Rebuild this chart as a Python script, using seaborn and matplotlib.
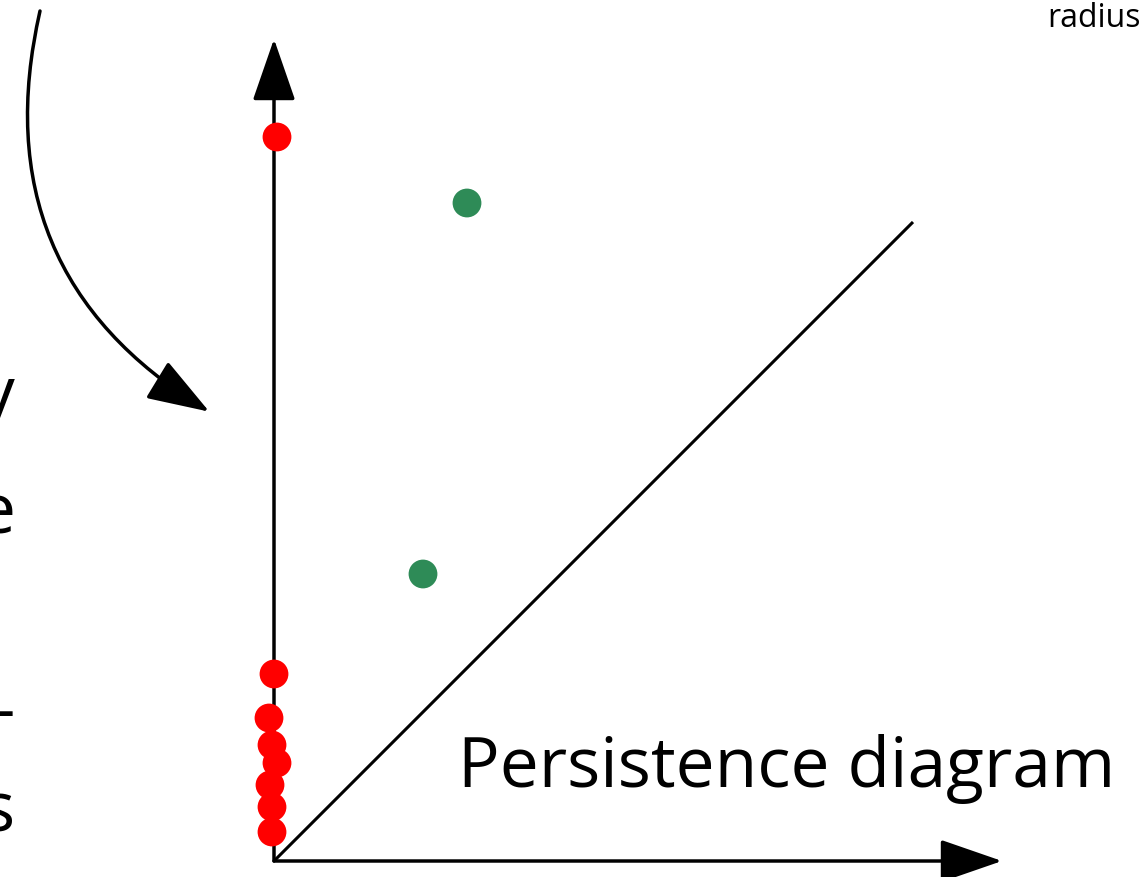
import numpy as np
import pandas as pd
import matplotlib
matplotlib.use("Agg")
import matplotlib.pyplot as plt
import seaborn as sns
from matplotlib.patches import FancyArrowPatch

# ---- data (birth, death) ----
h0_birth = [0.03, 0.00, -0.05, -0.02, 0.03, -0.04, -0.02, -0.02]
h0_death = [7.24, 1.87, 1.43, 1.16, 0.98, 0.76, 0.54, 0.29]
h1_birth = [1.93, 1.49]
h1_death = [6.58, 2.87]
diag_max = 6.39
x_axis_end = 7.28
y_axis_end = 8.22
title_text = "Persistence diagram"
corner_text = "radius"
edge_letters = ["y", "e", "-", "s"]
edge_letter_y = [4.45, 3.28, 1.29, 0.29]

df = pd.DataFrame({
    "birth": h0_birth + h1_birth,
    "death": h0_death + h1_death,
    "dim": ["H0"] * len(h0_birth) + ["H1"] * len(h1_birth),
})

sns.set_theme(style="white")
plt.rcParams["font.family"] = ["Open Sans", "DejaVu Sans"]

fig = plt.figure(figsize=(11.43, 8.77), dpi=100)
ax = fig.add_axes([0, 0, 1, 1])
ax.set_xlim(-2.74, 8.69)
ax.set_ylim(-0.16, 8.61)
ax.set_axis_off()

lw = 2.5
# diagonal
ax.plot([0, diag_max], [0, diag_max], color="black", lw=2.2, solid_capstyle="butt", zorder=1)

arrow_style = "-|>,head_length=39,head_width=13.5"
for end in [(x_axis_end, 0), (0, y_axis_end)]:
    ax.add_patch(FancyArrowPatch((0, 0), end, arrowstyle=arrow_style, mutation_scale=1,
                                 color="black", lw=lw, shrinkA=0, shrinkB=0, zorder=1))

# curved arrow
ax.add_patch(FancyArrowPatch((-2.34, 8.50), (-0.647, 4.493), arrowstyle=arrow_style,
                             connectionstyle="arc3,rad=0.36", mutation_scale=1,
                             color="black", lw=lw, shrinkA=0, shrinkB=0, zorder=1))

sns.scatterplot(data=df, x="birth", y="death", hue="dim",
                palette={"H0": "#ff0000", "H1": "#2e8b57"},
                s=430, edgecolor="none", linewidth=0, legend=False, ax=ax, zorder=3)

ax.text(1.84, 0.74, title_text, fontsize=50, ha="left", va="baseline", color="black")
ax.text(8.67, 8.34, corner_text, fontsize=23, ha="right", va="baseline", color="black")
for letter, yy in zip(edge_letters, edge_letter_y):
    ax.text(-2.59, yy, letter, fontsize=50, ha="right", va="baseline", color="black")

fig.savefig("out.png", dpi=100)
